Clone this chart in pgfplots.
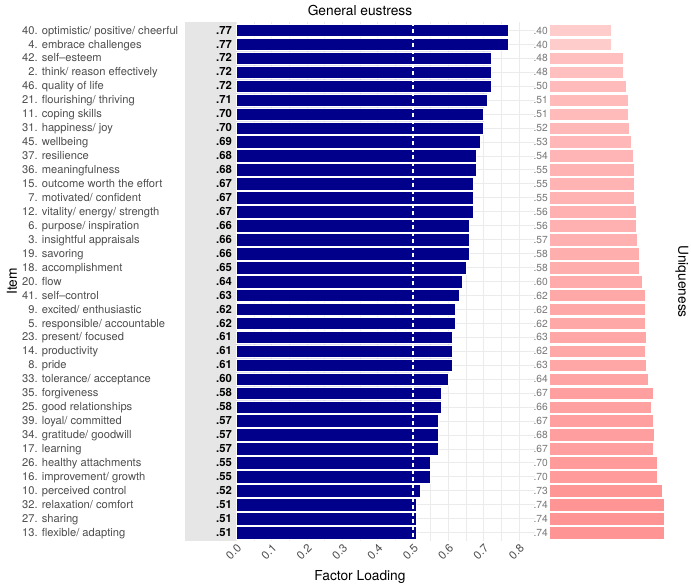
\documentclass[border=0pt]{standalone}
\usepackage{pgfplots}
\pgfplotsset{compat=1.18}
\usepackage{pgfplotstable}
\usepackage{fontspec}
\setmainfont{TeX Gyre Heros}

\definecolor{loadblue}{RGB}{0,0,139}
\definecolor{txtgray}{RGB}{77,77,77}
\definecolor{labgray}{RGB}{120,120,120}
\definecolor{gridgray}{RGB}{235,235,235}
\definecolor{panelgray}{RGB}{230,230,230}

% row (top = 1), factor loading, uniqueness
\pgfplotstableread{
row load loadlab uniq uniqlab
1  0.77 .77 0.40 .40
2  0.77 .77 0.40 .40
3  0.72 .72 0.48 .48
4  0.72 .72 0.48 .48
5  0.72 .72 0.50 .50
6  0.71 .71 0.51 .51
7  0.70 .70 0.51 .51
8  0.70 .70 0.52 .52
9  0.69 .69 0.53 .53
10 0.68 .68 0.54 .54
11 0.68 .68 0.55 .55
12 0.67 .67 0.55 .55
13 0.67 .67 0.55 .55
14 0.67 .67 0.56 .56
15 0.66 .66 0.56 .56
16 0.66 .66 0.57 .57
17 0.66 .66 0.58 .58
18 0.65 .65 0.58 .58
19 0.64 .64 0.60 .60
20 0.63 .63 0.62 .62
21 0.62 .62 0.62 .62
22 0.62 .62 0.62 .62
23 0.61 .61 0.63 .63
24 0.61 .61 0.62 .62
25 0.61 .61 0.63 .63
26 0.60 .60 0.64 .64
27 0.58 .58 0.67 .67
28 0.58 .58 0.66 .66
29 0.57 .57 0.67 .67
30 0.57 .57 0.68 .68
31 0.57 .57 0.67 .67
32 0.55 .55 0.70 .70
33 0.55 .55 0.70 .70
34 0.52 .52 0.73 .73
35 0.51 .51 0.74 .74
36 0.51 .51 0.74 .74
37 0.51 .51 0.74 .74
}\esdata

\pgfplotsset{
  ubar/.style={xbar, bar shift=0pt, bar width=0.9, draw=white, line width=0.5pt, fill=red!#1!white},
}

\newcommand\itemfont{\fontsize{11.2}{13}\selectfont}
\newcommand\titlefont{\fontsize{13.8}{16}\selectfont}

\begin{document}
\begin{tikzpicture}
\useasboundingbox (0,0) rectangle (691bp,586bp);

% ---- factor loadings ----
\begin{axis}[
  at={(185bp,45bp)}, anchor=south west,
  scale only axis, width=350bp, height=519bp,
  xmin=-0.145, xmax=0.845,
  ymin=0.4, ymax=37.6, y dir=reverse,
  clip=false,
  axis line style={draw=none},
  major tick length=0pt, minor tick length=0pt,
  xtick={0,0.1,0.2,0.3,0.4,0.5,0.6,0.7,0.8},
  xticklabels={0.0,0.1,0.2,0.3,0.4,0.5,0.6,0.7,0.8},
  minor xtick={0.05,0.15,0.25,0.35,0.45,0.55,0.65,0.75},
  xmajorgrids, xminorgrids, ymajorgrids,
  grid style={color=gridgray, line width=0.8pt},
  minor grid style={color=gridgray, line width=0.5pt},
  ytick={1,...,37},
  yticklabels={
    {40. optimistic/ positive/ cheerful},
    {\phantom{0}4. embrace challenges},
    {42. self--esteem},
    {\phantom{0}2. think/ reason effectively},
    {46. quality of life},
    {21. flourishing/ thriving},
    {11. coping skills},
    {31. happiness/ joy},
    {45. wellbeing},
    {37. resilience},
    {36. meaningfulness},
    {15. outcome worth the effort},
    {\phantom{0}7. motivated/ confident},
    {12. vitality/ energy/ strength},
    {\phantom{0}6. purpose/ inspiration},
    {\phantom{0}3. insightful appraisals},
    {19. savoring},
    {18. accomplishment},
    {20. flow},
    {41. self--control},
    {\phantom{0}9. excited/ enthusiastic},
    {\phantom{0}5. responsible/ accountable},
    {23. present/ focused},
    {14. productivity},
    {\phantom{0}8. pride},
    {33. tolerance/ acceptance},
    {35. forgiveness},
    {25. good relationships},
    {39. loyal/ committed},
    {34. gratitude/ goodwill},
    {17. learning},
    {26. healthy attachments},
    {16. improvement/ growth},
    {10. perceived control},
    {32. relaxation/ comfort},
    {27. sharing},
    {13. flexible/ adapting}},
  yticklabel style={anchor=base west, inner sep=0pt, xshift=-163bp, yshift=-0.37em,
    font=\itemfont, text=txtgray},
  xticklabel style={rotate=45, anchor=north east, inner sep=1.5pt,
    font=\fontsize{11.5}{13}\selectfont, text=txtgray},
]
% label column
\fill[panelgray] (axis cs:-0.145,0.4) rectangle (axis cs:0,37.6);
\addplot[xbar, bar shift=0pt, bar width=0.9, fill=loadblue, draw=white, line width=0.5pt]
  table[x=load, y=row] {\esdata};
\addplot[white, line width=1.1pt, dash pattern=on 4bp off 3bp]
  coordinates {(0.5,0.4) (0.5,37.6)};
\addplot[draw=none, mark=none, nodes near coords, point meta=explicit symbolic,
  nodes near coords style={anchor=base east, inner sep=0pt, yshift=-0.37em,
    font=\bfseries\fontsize{11.3}{13}\selectfont, text=black}]
  table[x expr=-0.012, y=row, meta=loadlab] {\esdata};
\node[anchor=base, font=\titlefont] at ([yshift=7bp]axis description cs:0.5,1) {General eustress};
\node[anchor=base, font=\titlefont] at ([yshift=-39bp]axis description cs:0.5,0) {Factor Loading};
\node[rotate=90, font=\titlefont] at ([xshift=-173bp]axis description cs:0,0.5) {Item};
\end{axis}

% ---- uniqueness ----
\begin{axis}[
  at={(535bp,45bp)}, anchor=south west,
  scale only axis, width=135bp, height=519bp,
  xmin=-0.09, xmax=0.78,
  ymin=0.4, ymax=37.6, y dir=reverse,
  hide axis, clip=false,
]
\addplot[ubar=20.0] coordinates {(0.40,1)};
\addplot[ubar=20.0] coordinates {(0.40,2)};
\addplot[ubar=25.2] coordinates {(0.48,3)};
\addplot[ubar=25.2] coordinates {(0.48,4)};
\addplot[ubar=26.5] coordinates {(0.50,5)};
\addplot[ubar=27.1] coordinates {(0.51,6)};
\addplot[ubar=27.1] coordinates {(0.51,7)};
\addplot[ubar=27.8] coordinates {(0.52,8)};
\addplot[ubar=28.4] coordinates {(0.53,9)};
\addplot[ubar=29.1] coordinates {(0.54,10)};
\addplot[ubar=29.7] coordinates {(0.55,11)};
\addplot[ubar=29.7] coordinates {(0.55,12)};
\addplot[ubar=29.7] coordinates {(0.55,13)};
\addplot[ubar=30.4] coordinates {(0.56,14)};
\addplot[ubar=30.4] coordinates {(0.56,15)};
\addplot[ubar=31.0] coordinates {(0.57,16)};
\addplot[ubar=31.6] coordinates {(0.58,17)};
\addplot[ubar=31.6] coordinates {(0.58,18)};
\addplot[ubar=32.9] coordinates {(0.60,19)};
\addplot[ubar=34.2] coordinates {(0.62,20)};
\addplot[ubar=34.2] coordinates {(0.62,21)};
\addplot[ubar=34.2] coordinates {(0.62,22)};
\addplot[ubar=34.9] coordinates {(0.63,23)};
\addplot[ubar=34.2] coordinates {(0.62,24)};
\addplot[ubar=34.9] coordinates {(0.63,25)};
\addplot[ubar=35.5] coordinates {(0.64,26)};
\addplot[ubar=37.5] coordinates {(0.67,27)};
\addplot[ubar=36.8] coordinates {(0.66,28)};
\addplot[ubar=37.5] coordinates {(0.67,29)};
\addplot[ubar=38.1] coordinates {(0.68,30)};
\addplot[ubar=37.5] coordinates {(0.67,31)};
\addplot[ubar=39.4] coordinates {(0.70,32)};
\addplot[ubar=39.4] coordinates {(0.70,33)};
\addplot[ubar=41.3] coordinates {(0.73,34)};
\addplot[ubar=42.0] coordinates {(0.74,35)};
\addplot[ubar=42.0] coordinates {(0.74,36)};
\addplot[ubar=42.0] coordinates {(0.74,37)};
\addplot[draw=none, mark=none, nodes near coords, point meta=explicit symbolic,
  nodes near coords style={anchor=base east, inner sep=0pt, yshift=-0.37em,
    font=\fontsize{10.3}{12}\selectfont, text=labgray}]
  table[x expr=-0.006, y=row, meta=uniqlab] {\esdata};
\node[rotate=-90, font=\titlefont] at ([xshift=12bp]axis description cs:1,0.5) {Uniqueness};
\end{axis}
\end{tikzpicture}
\end{document}
